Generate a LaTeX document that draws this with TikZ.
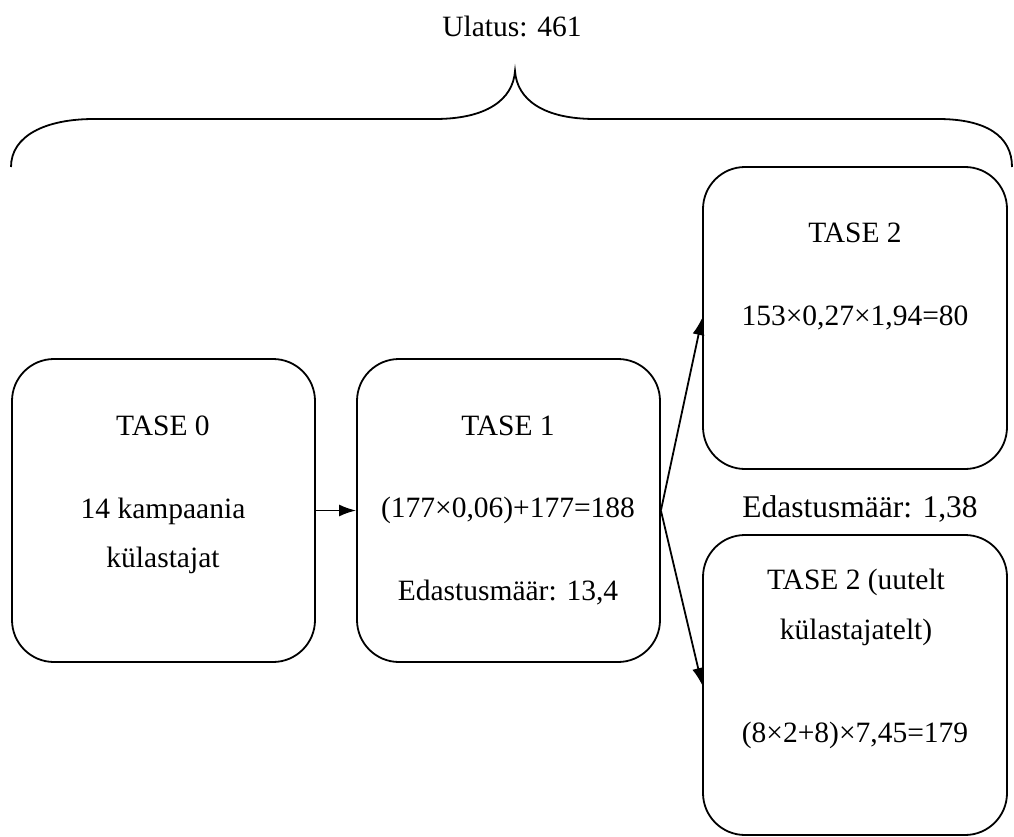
\documentclass[tikz,border=0pt]{standalone}
\usepackage{fontspec}
\setmainfont{Liberation Serif}
\usetikzlibrary{positioning,calc,arrows.meta}
\tikzset{
  lvl/.style={draw, line width=1.8pt, rounded corners=42pt, minimum width=303pt, minimum height=303pt, inner sep=0pt},
  txt/.style={anchor=base, inner sep=0pt, font=\fontsize{29.5}{35}\selectfont},
  conn/.style={line width=1.8pt, -{Latex[length=17pt,width=12pt]}}}
\begin{document}
\begin{tikzpicture}[x=1pt, y=-1pt]
\useasboundingbox (0,0) rectangle (1014,837);
% the brace over everything
\node[txt] (reach) at (512,37) {Ulatus: 461};
\draw[line width=1.8pt] (11,167) .. controls (11,136) and (45,119) .. (94,119) -- (435,119)
  .. controls (486,119) and (513,100) .. (515,71) .. controls (517,100) and (544,119) .. (595,119)
  -- (938,119) .. controls (986,119) and (1012,136) .. (1012,167);
% level boxes
\node[lvl] (t0) at (163.5,510.5) {};
\node[lvl] (t1) at (508.5,510.5) {};
\node[lvl, minimum width=304pt, minimum height=302pt] (t2a) at (855,318) {};
\node[lvl, minimum width=304pt, minimum height=300pt] (t2b) at (855,685) {};
% texts
\node[txt] (t0a) at (163,435) {TASE 0};
\node[txt] (t0b) at (163,518) {14 kampaania};
\node[txt] (t0c) at (163,567) {külastajat};
\node[txt] (t1a) at (508,435) {TASE 1};
\node[txt] (t1b) at (508,517) {(177×0,06)+177=188};
\node[txt] (t1c) at (508,600) {Edastusmäär: 13,4};
\node[txt] (t2aa) at (855,242) {TASE 2};
\node[txt] (t2ab) at (855,325) {153×0,27×1,94=80};
\node[txt, font=\fontsize{31.5}{37}\selectfont] (rate) at (860,517.5) {Edastusmäär: 1,38};
\node[txt] (t2ba) at (856,589) {TASE 2 (uutelt};
\node[txt] (t2bb) at (856,639) {külastajatelt)};
\node[txt] (t2bc) at (855,742) {(8×2+8)×7,45=179};
% connectors
\draw[conn] (t0.east) -- (t1.west);
\draw[conn] (t1.east) -- (t2a.west);
\draw[conn] (t1.east) -- (t2b.west);
\end{tikzpicture}
\end{document}
